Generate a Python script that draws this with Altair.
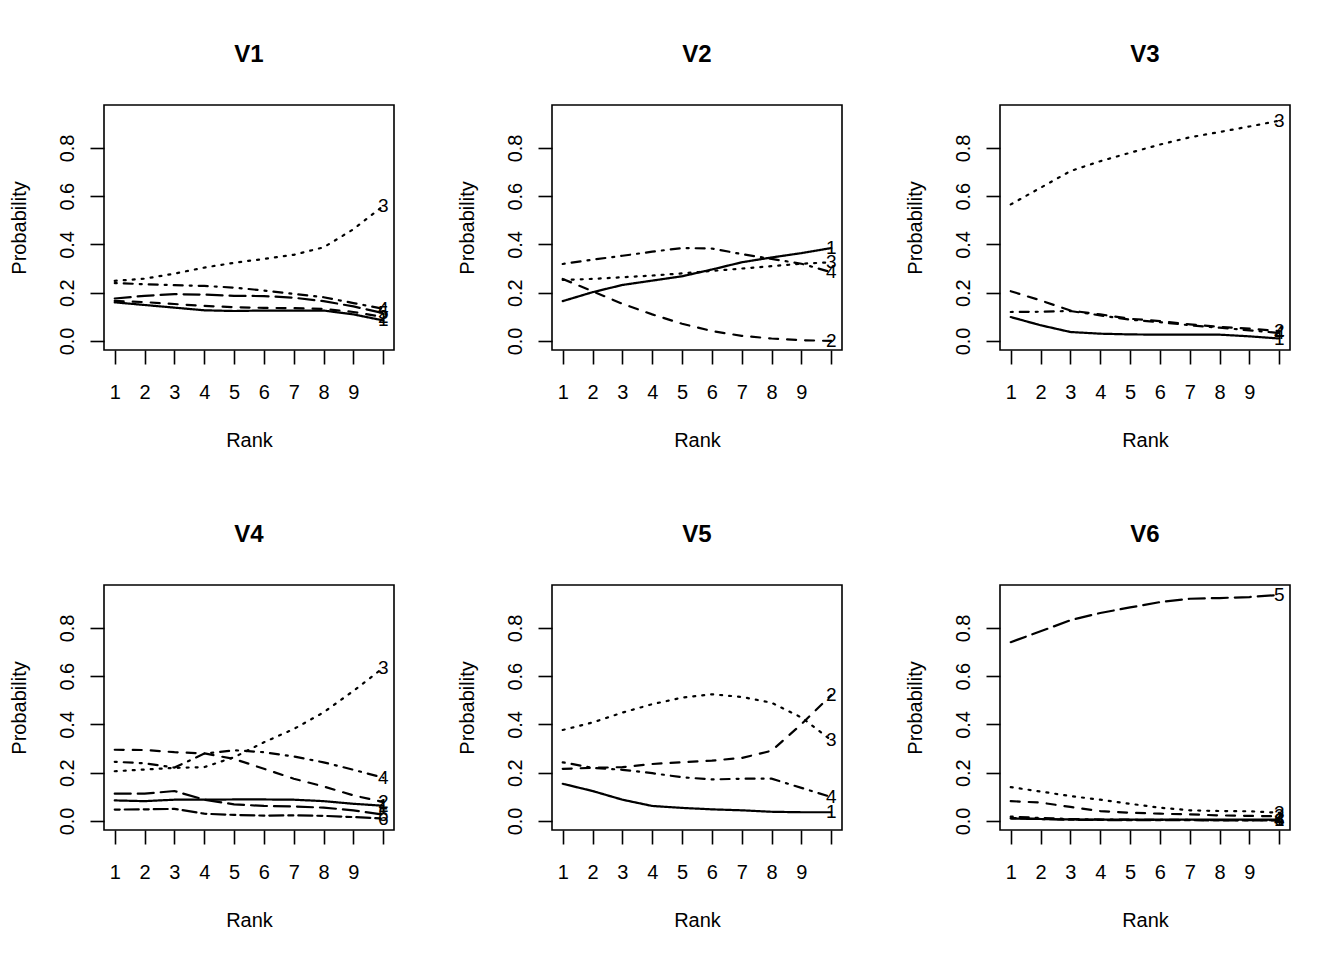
import altair as alt
import pandas as pd

ranks = list(range(1, 11))

# Panel V1
v1_1 = [0.160, 0.149, 0.138, 0.127, 0.124, 0.126, 0.126, 0.126, 0.110, 0.085]
v1_2 = [0.166, 0.161, 0.153, 0.145, 0.140, 0.137, 0.136, 0.133, 0.120, 0.099]
v1_3 = [0.249, 0.258, 0.279, 0.304, 0.324, 0.340, 0.357, 0.388, 0.463, 0.560]
v1_4 = [0.240, 0.235, 0.231, 0.228, 0.221, 0.209, 0.195, 0.181, 0.157, 0.133]
v1_5 = [0.176, 0.187, 0.194, 0.192, 0.187, 0.186, 0.179, 0.165, 0.143, 0.115]

# Panel V2
v2_1 = [0.165, 0.202, 0.232, 0.250, 0.268, 0.296, 0.326, 0.346, 0.364, 0.385]
v2_2 = [0.257, 0.206, 0.154, 0.110, 0.071, 0.041, 0.021, 0.010, 0.003, 0.000]
v2_3 = [0.253, 0.257, 0.264, 0.271, 0.280, 0.290, 0.300, 0.310, 0.320, 0.326]
v2_4 = [0.319, 0.337, 0.353, 0.370, 0.385, 0.383, 0.360, 0.340, 0.320, 0.285]

# Panel V3
v3_1 = [0.099, 0.065, 0.037, 0.030, 0.027, 0.026, 0.026, 0.026, 0.019, 0.010]
v3_2 = [0.206, 0.168, 0.126, 0.110, 0.092, 0.082, 0.069, 0.058, 0.051, 0.041]
v3_3 = [0.566, 0.635, 0.704, 0.745, 0.780, 0.814, 0.844, 0.866, 0.889, 0.913]
v3_4 = [0.120, 0.121, 0.124, 0.106, 0.088, 0.078, 0.065, 0.055, 0.044, 0.033]

# Panel V4
v4_1 = [0.085, 0.082, 0.088, 0.088, 0.089, 0.089, 0.088, 0.082, 0.071, 0.063]
v4_2 = [0.295, 0.294, 0.285, 0.280, 0.257, 0.216, 0.175, 0.143, 0.106, 0.078]
v4_3 = [0.206, 0.213, 0.220, 0.223, 0.264, 0.326, 0.381, 0.450, 0.539, 0.635]
v4_4 = [0.245, 0.239, 0.221, 0.279, 0.293, 0.285, 0.267, 0.243, 0.212, 0.179]
v4_5 = [0.113, 0.113, 0.124, 0.088, 0.069, 0.062, 0.060, 0.055, 0.044, 0.026]
v4_6 = [0.047, 0.048, 0.050, 0.030, 0.025, 0.022, 0.023, 0.021, 0.016, 0.010]

# Panel V5
v5_1 = [0.154, 0.124, 0.088, 0.062, 0.054, 0.048, 0.044, 0.038, 0.036, 0.036]
v5_2 = [0.216, 0.220, 0.223, 0.236, 0.243, 0.250, 0.261, 0.291, 0.401, 0.522]
v5_3 = [0.377, 0.408, 0.449, 0.484, 0.511, 0.525, 0.514, 0.490, 0.429, 0.335]
v5_4 = [0.243, 0.220, 0.212, 0.198, 0.181, 0.172, 0.175, 0.175, 0.137, 0.099]

# Panel V6
v6_1 = [0.010, 0.008, 0.006, 0.005, 0.005, 0.005, 0.005, 0.005, 0.005, 0.005]
v6_2 = [0.082, 0.076, 0.058, 0.041, 0.034, 0.030, 0.027, 0.023, 0.021, 0.019]
v6_3 = [0.140, 0.122, 0.103, 0.088, 0.071, 0.055, 0.044, 0.041, 0.040, 0.034]
v6_4 = [0.018, 0.012, 0.008, 0.006, 0.005, 0.004, 0.004, 0.003, 0.003, 0.003]
v6_5 = [0.741, 0.786, 0.832, 0.862, 0.885, 0.907, 0.921, 0.924, 0.928, 0.937]
v6_6 = [0.012, 0.008, 0.005, 0.004, 0.003, 0.003, 0.003, 0.002, 0.002, 0.002]

panels = [
    ("V1", [v1_1, v1_2, v1_3, v1_4, v1_5]),
    ("V2", [v2_1, v2_2, v2_3, v2_4]),
    ("V3", [v3_1, v3_2, v3_3, v3_4]),
    ("V4", [v4_1, v4_2, v4_3, v4_4, v4_5, v4_6]),
    ("V5", [v5_1, v5_2, v5_3, v5_4]),
    ("V6", [v6_1, v6_2, v6_3, v6_4, v6_5, v6_6]),
]

cats = ["1", "2", "3", "4", "5", "6"]
dashes = [[1, 0], [9, 9], [2, 7], [2, 7, 9, 7], [16, 7], [5, 5, 14, 5]]
x_tick_values = ranks
y_tick_values = [0, 0.2, 0.4, 0.6, 0.8]

FONT = "Liberation Sans"
x_scale = alt.Scale(domain=[0.64, 10.36], nice=False, zero=False)
y_scale = alt.Scale(domain=[-0.0376, 0.978], nice=False, zero=False)


def x_axis():
    return alt.Axis(title="Rank", values=x_tick_values, labelOverlap=False, labelFlush=False,
                    labelExpr="datum.value == 10 ? '' : datum.label")


def y_axis():
    return alt.Axis(title="Probability", values=y_tick_values, format=".1f",
                    labelOverlap=False, labelFlush=False)


charts = []
for name, series in panels:
    rows = []
    for i, vals in enumerate(series):
        for r, v in zip(ranks, vals):
            rows.append({"rank": r, "prob": v, "cat": cats[i]})
    df = pd.DataFrame(rows)
    last = df[df["rank"] == 10]

    lines = alt.Chart(df).mark_line(color="black", strokeWidth=2.2, strokeCap="round").encode(
        x=alt.X("rank:Q", scale=x_scale, axis=x_axis()),
        y=alt.Y("prob:Q", scale=y_scale, axis=y_axis()),
        strokeDash=alt.StrokeDash("cat:N", scale=alt.Scale(domain=cats, range=dashes), legend=None),
        detail="cat:N",
    )
    labels = alt.Chart(last).mark_text(font=FONT, fontSize=19, color="black",
                                        align="center", baseline="middle").encode(
        x=alt.X("rank:Q", scale=x_scale, axis=x_axis()),
        y=alt.Y("prob:Q", scale=y_scale, axis=y_axis()),
        text="cat:N",
    )
    ch = alt.layer(lines, labels).properties(
        width=290, height=245,
        title=alt.TitleParams(name, fontSize=24, fontWeight="bold", font=FONT,
                              anchor="middle", frame="group", baseline="alphabetic", offset=19),
    )
    charts.append(ch)

chart = alt.concat(*charts, columns=3, spacing=alt.RowColnumber(row=235, column=158),
                   bounds="flush").properties(
    padding={"left": 0, "top": 34, "right": 5, "bottom": 5}
).configure_view(
    stroke="black", strokeWidth=1.6
).configure_axis(
    grid=False, domain=False, tickColor="black", tickWidth=1.6, tickSize=14,
    labelFont=FONT, labelFontSize=20, labelColor="black", labelOverlap=False,
    titleFont=FONT, titleFontSize=20, titleColor="black", titleFontWeight="normal",
).configure_axisX(
    labelPadding=18, titlePadding=28, labelAngle=0,
).configure_axisY(
    labelAngle=270, labelAlign="center", labelBaseline="alphabetic", labelPadding=17,
    titlePadding=28,
)

chart.save("out.html", embed_options={"renderer": "svg", "actions": False})
